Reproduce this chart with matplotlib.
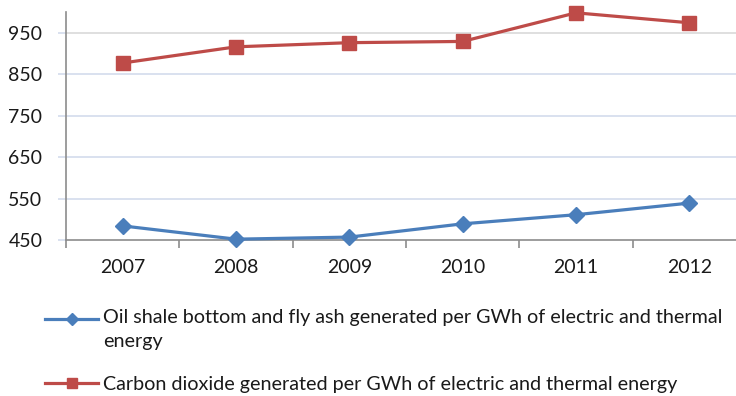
import matplotlib
matplotlib.use("Agg")
import matplotlib.pyplot as plt
import matplotlib.transforms as mtransforms
from matplotlib.legend_handler import HandlerLine2D
import numpy as np

years = ["2007", "2008", "2009", "2010", "2011", "2012"]
ash_per_gwh = [484, 452, 457, 489, 511, 539]
co2_per_gwh = [877, 916, 926, 929, 998, 974]
y_ticks = [450, 550, 650, 750, 850, 950]

ash_label = "Oil shale bottom and fly ash generated per GWh of electric and thermal\nenergy"
co2_label = "Carbon dioxide generated per GWh of electric and thermal energy"

plt.rcParams["font.family"] = ["Lato", "DejaVu Sans"]


class RaisedLineHandler(HandlerLine2D):
    """Legend handle shifted up so it lines up with the first line of a wrapped label."""

    def __init__(self, raise_px, **kw):
        super().__init__(**kw)
        self.raise_px = raise_px

    def create_artists(self, legend, orig_handle, xdescent, ydescent,
                       width, height, fontsize, trans):
        shifted = trans + mtransforms.Affine2D().translate(0, self.raise_px)
        return super().create_artists(legend, orig_handle, xdescent, ydescent,
                                      width, height, fontsize, shifted)


fig = plt.figure(figsize=(7.36, 3.96), dpi=100)
ax = fig.add_axes([66 / 736, 1 - 240 / 396, 680 / 736, 228 / 396])

x = np.arange(len(years))
blue = "#4a7ebb"
red = "#be4b48"
text_color = "#1a1a1a"

l1, = ax.plot(x, ash_per_gwh, color=blue, lw=2.3, marker="D", ms=8.5,
              markeredgecolor=blue, zorder=3, clip_on=False)
l2, = ax.plot(x, co2_per_gwh, color=red, lw=2.3, marker="s", ms=9.5,
              markeredgecolor=red, zorder=3, clip_on=False)

ax.set_xlim(-0.5, len(years) - 0.5)
ax.set_ylim(450, 1000)
ax.set_yticks(y_ticks)
ax.set_yticklabels([str(v) for v in y_ticks])
ax.set_xticks(x)
ax.set_xticklabels(years)
ax.set_xticks(np.arange(len(years) + 1) - 0.5, minor=True)

for v in y_ticks[1:]:
    ax.axhline(v, color="#d9d9d9" if v == 950 else "#d3dcec", lw=1.2, zorder=1)

for s in ["top", "right"]:
    ax.spines[s].set_visible(False)
for s in ["left", "bottom"]:
    ax.spines[s].set_color("#8c8c8c")
    ax.spines[s].set_linewidth(1.2)

ax.tick_params(axis="y", length=6, width=1.2, color="#d3dcec", pad=11,
               labelsize=14, labelcolor=text_color)
ax.tick_params(axis="x", which="major", length=0, pad=14,
               labelsize=14, labelcolor=text_color)
ax.tick_params(axis="x", which="minor", length=6, width=1.2, color="#8c8c8c")

leg = fig.legend([l1, l2], [ash_label, co2_label], loc="upper left",
                 bbox_to_anchor=(45 / 736, 1 - 309 / 396), frameon=False,
                 fontsize=14.2, handlelength=2.7, handletextpad=0.25,
                 labelspacing=1.3, borderaxespad=0, borderpad=0,
                 markerscale=0.72,
                 handler_map={l1: RaisedLineHandler(11)})
for t in leg.get_texts():
    t.set_color(text_color)
    t.set_linespacing(1.5)

fig.savefig("out.png", dpi=100)
